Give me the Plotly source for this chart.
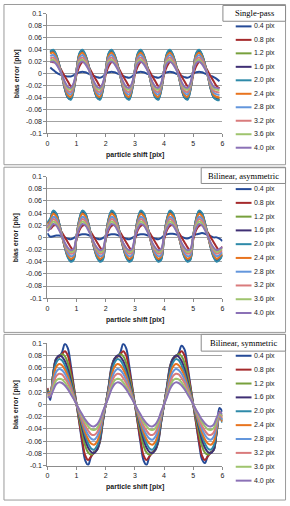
import plotly.graph_objects as go

# ---------------- data ----------------
series_labels = ["0.4 pix", "0.8 pix", "1.2 pix", "1.6 pix", "2.0 pix",
                 "2.4 pix", "2.8 pix", "3.2 pix", "3.6 pix", "4.0 pix"]
series_colors = ["#254a97", "#a52a2c", "#77a03c", "#3f2f74", "#2e8aa9",
                 "#e8741f", "#6396dc", "#d97b7c", "#9fc46e", "#8b71b6"]
panel_titles = ["Single-pass", "Bilinear, asymmetric", "Bilinear, symmetric"]
y_tick_values = [-0.1, -0.08, -0.06, -0.04, -0.02, 0, 0.02, 0.04, 0.06, 0.08, 0.1]
y_tick_labels = ["-0.1", "-0.08", "-0.06", "-0.04", "-0.02", "0",
                 "0.02", "0.04", "0.06", "0.08", "0.1"]
x_tick_values = [0, 1, 2, 3, 4, 5, 6]
x_tick_labels = ["0", "1", "2", "3", "4", "5", "6"]

shift_p1 = [round(0.1 * i, 1) for i in range(1, 60)]     # 0.1 .. 5.9
shift_full = [round(0.1 * i, 1) for i in range(0, 61)]   # 0.0 .. 6.0

# Panel 1: Single-pass (x = 0.1 .. 5.9)
p1_04 = [0.010, 0.006, 0.002, -0.001, -0.003, -0.004, -0.005, -0.005, -0.003,
         0.000, 0.002, 0.003, 0.002, 0.000, -0.002, -0.004, -0.006, -0.007, -0.005,
         0.000, 0.002, 0.003, 0.002, 0.000, -0.002, -0.004, -0.006, -0.007, -0.005,
         0.000, 0.002, 0.003, 0.002, 0.000, -0.002, -0.004, -0.006, -0.007, -0.005,
         0.000, 0.002, 0.003, 0.002, 0.000, -0.002, -0.004, -0.006, -0.007, -0.005,
         0.000, 0.002, 0.003, 0.002, 0.000, -0.002, -0.004, -0.006, -0.009, -0.013]
p1_08 = [0.020, 0.019, 0.018, 0.012, 0.004, -0.005, -0.013, -0.021, -0.022,
         -0.002, 0.012, 0.019, 0.018, 0.012, 0.004, -0.005, -0.013, -0.021, -0.022,
         -0.002, 0.012, 0.019, 0.018, 0.012, 0.004, -0.005, -0.013, -0.021, -0.022,
         -0.002, 0.012, 0.019, 0.018, 0.012, 0.004, -0.005, -0.013, -0.021, -0.022,
         -0.002, 0.012, 0.019, 0.018, 0.012, 0.004, -0.005, -0.013, -0.021, -0.022,
         -0.002, 0.012, 0.019, 0.018, 0.012, 0.004, -0.005, -0.013, -0.021, -0.025]
p1_12 = [0.034, 0.037, 0.030, 0.015, -0.004, -0.025, -0.038, -0.041, -0.027,
         0.006, 0.031, 0.037, 0.030, 0.015, -0.004, -0.025, -0.038, -0.041, -0.027,
         0.006, 0.031, 0.037, 0.030, 0.015, -0.004, -0.025, -0.038, -0.041, -0.027,
         0.006, 0.031, 0.037, 0.030, 0.015, -0.004, -0.025, -0.038, -0.041, -0.027,
         0.006, 0.031, 0.037, 0.030, 0.015, -0.004, -0.025, -0.038, -0.041, -0.027,
         0.006, 0.031, 0.037, 0.030, 0.015, -0.004, -0.025, -0.038, -0.041, -0.042]
p1_16 = [0.036, 0.039, 0.031, 0.016, -0.004, -0.026, -0.040, -0.043, -0.028,
         0.006, 0.033, 0.039, 0.031, 0.016, -0.004, -0.026, -0.040, -0.043, -0.028,
         0.006, 0.033, 0.039, 0.031, 0.016, -0.004, -0.026, -0.040, -0.043, -0.028,
         0.006, 0.033, 0.039, 0.031, 0.016, -0.004, -0.026, -0.040, -0.043, -0.028,
         0.006, 0.033, 0.039, 0.031, 0.016, -0.004, -0.026, -0.040, -0.043, -0.028,
         0.006, 0.033, 0.039, 0.031, 0.016, -0.004, -0.026, -0.040, -0.043, -0.044]
p1_20 = [0.037, 0.040, 0.032, 0.016, -0.004, -0.026, -0.040, -0.044, -0.029,
         0.006, 0.034, 0.040, 0.032, 0.016, -0.004, -0.026, -0.040, -0.044, -0.029,
         0.006, 0.034, 0.040, 0.032, 0.016, -0.004, -0.026, -0.040, -0.044, -0.029,
         0.006, 0.034, 0.040, 0.032, 0.016, -0.004, -0.026, -0.040, -0.044, -0.029,
         0.006, 0.034, 0.040, 0.032, 0.016, -0.004, -0.026, -0.040, -0.044, -0.029,
         0.006, 0.034, 0.040, 0.032, 0.016, -0.004, -0.026, -0.040, -0.044, -0.045]
p1_24 = [0.033, 0.035, 0.028, 0.014, -0.004, -0.023, -0.036, -0.039, -0.025,
         0.005, 0.030, 0.035, 0.028, 0.014, -0.004, -0.023, -0.036, -0.039, -0.025,
         0.005, 0.030, 0.035, 0.028, 0.014, -0.004, -0.023, -0.036, -0.039, -0.025,
         0.005, 0.030, 0.035, 0.028, 0.014, -0.004, -0.023, -0.036, -0.039, -0.025,
         0.005, 0.030, 0.035, 0.028, 0.014, -0.004, -0.023, -0.036, -0.039, -0.025,
         0.005, 0.030, 0.035, 0.028, 0.014, -0.004, -0.023, -0.036, -0.039, -0.040]
p1_28 = [0.029, 0.031, 0.025, 0.012, -0.004, -0.021, -0.032, -0.035, -0.023,
         0.005, 0.026, 0.031, 0.025, 0.012, -0.004, -0.021, -0.032, -0.035, -0.023,
         0.005, 0.026, 0.031, 0.025, 0.012, -0.004, -0.021, -0.032, -0.035, -0.023,
         0.005, 0.026, 0.031, 0.025, 0.012, -0.004, -0.021, -0.032, -0.035, -0.023,
         0.005, 0.026, 0.031, 0.025, 0.012, -0.004, -0.021, -0.032, -0.035, -0.023,
         0.005, 0.026, 0.031, 0.025, 0.012, -0.004, -0.021, -0.032, -0.035, -0.036]
p1_32 = [0.025, 0.027, 0.022, 0.011, -0.003, -0.019, -0.029, -0.031, -0.020,
         0.004, 0.023, 0.027, 0.022, 0.011, -0.003, -0.019, -0.029, -0.031, -0.020,
         0.004, 0.023, 0.027, 0.022, 0.011, -0.003, -0.019, -0.029, -0.031, -0.020,
         0.004, 0.023, 0.027, 0.022, 0.011, -0.003, -0.019, -0.029, -0.031, -0.020,
         0.004, 0.023, 0.027, 0.022, 0.011, -0.003, -0.019, -0.029, -0.031, -0.020,
         0.004, 0.023, 0.027, 0.022, 0.011, -0.003, -0.019, -0.029, -0.031, -0.032]
p1_36 = [0.022, 0.023, 0.018, 0.009, -0.003, -0.016, -0.025, -0.027, -0.018,
         0.003, 0.020, 0.023, 0.018, 0.009, -0.003, -0.016, -0.025, -0.027, -0.018,
         0.003, 0.020, 0.023, 0.018, 0.009, -0.003, -0.016, -0.025, -0.027, -0.018,
         0.003, 0.020, 0.023, 0.018, 0.009, -0.003, -0.016, -0.025, -0.027, -0.018,
         0.003, 0.020, 0.023, 0.018, 0.009, -0.003, -0.016, -0.025, -0.027, -0.018,
         0.003, 0.020, 0.023, 0.018, 0.009, -0.003, -0.016, -0.025, -0.027, -0.028]
p1_40 = [0.019, 0.020, 0.016, 0.008, -0.002, -0.014, -0.022, -0.024, -0.016,
         0.003, 0.017, 0.020, 0.016, 0.008, -0.002, -0.014, -0.022, -0.024, -0.016,
         0.003, 0.017, 0.020, 0.016, 0.008, -0.002, -0.014, -0.022, -0.024, -0.016,
         0.003, 0.017, 0.020, 0.016, 0.008, -0.002, -0.014, -0.022, -0.024, -0.016,
         0.003, 0.017, 0.020, 0.016, 0.008, -0.002, -0.014, -0.022, -0.024, -0.016,
         0.003, 0.017, 0.020, 0.016, 0.008, -0.002, -0.014, -0.022, -0.024, -0.025]

# Panel 2: Bilinear, asymmetric (x = 0.0 .. 6.0)
p2_04 = [0.007, 0.001, 0.002, 0.003, 0.003, 0.002, 0.000, -0.002, -0.003, -0.001,
         0.002, 0.004, 0.005, 0.005, 0.004, 0.002, 0.000, -0.002, -0.003, -0.001,
         0.002, 0.004, 0.005, 0.005, 0.004, 0.002, 0.000, -0.002, -0.003, -0.001,
         0.002, 0.004, 0.005, 0.005, 0.004, 0.002, 0.000, -0.002, -0.003, -0.001,
         0.003, 0.005, 0.006, 0.006, 0.005, 0.003, 0.001, -0.001, -0.002, 0.000,
         0.003, 0.005, 0.006, 0.007, 0.006, 0.004, 0.002, 0.000, 0.000, -0.002,
         -0.006]
p2_08 = [0.018, 0.014, 0.019, 0.020, 0.015, 0.008, 0.000, -0.008, -0.016, -0.022,
         -0.004, 0.012, 0.019, 0.020, 0.015, 0.008, 0.000, -0.008, -0.016, -0.022,
         -0.004, 0.012, 0.019, 0.020, 0.015, 0.008, 0.000, -0.008, -0.016, -0.022,
         -0.004, 0.012, 0.019, 0.020, 0.015, 0.008, 0.000, -0.008, -0.016, -0.022,
         -0.004, 0.012, 0.019, 0.020, 0.015, 0.008, 0.000, -0.008, -0.016, -0.022,
         -0.004, 0.012, 0.019, 0.020, 0.015, 0.008, 0.000, -0.008, -0.016, -0.022,
         -0.015]
p2_12 = [0.022, 0.029, 0.041, 0.037, 0.023, 0.003, -0.016, -0.030, -0.037, -0.034,
         0.002, 0.029, 0.041, 0.037, 0.023, 0.003, -0.016, -0.030, -0.037, -0.034,
         0.002, 0.029, 0.041, 0.037, 0.023, 0.003, -0.016, -0.030, -0.037, -0.034,
         0.002, 0.029, 0.041, 0.037, 0.023, 0.003, -0.016, -0.030, -0.037, -0.034,
         0.002, 0.029, 0.041, 0.037, 0.023, 0.003, -0.016, -0.030, -0.037, -0.034,
         0.002, 0.029, 0.041, 0.037, 0.023, 0.003, -0.016, -0.030, -0.037, -0.034,
         -0.028]
p2_16 = [0.024, 0.030, 0.043, 0.039, 0.024, 0.003, -0.017, -0.032, -0.039, -0.036,
         0.002, 0.030, 0.043, 0.039, 0.024, 0.003, -0.017, -0.032, -0.039, -0.036,
         0.002, 0.030, 0.043, 0.039, 0.024, 0.003, -0.017, -0.032, -0.039, -0.036,
         0.002, 0.030, 0.043, 0.039, 0.024, 0.003, -0.017, -0.032, -0.039, -0.036,
         0.002, 0.030, 0.043, 0.039, 0.024, 0.003, -0.017, -0.032, -0.039, -0.036,
         0.002, 0.030, 0.043, 0.039, 0.024, 0.003, -0.017, -0.032, -0.039, -0.036,
         -0.029]
p2_20 = [0.025, 0.031, 0.044, 0.040, 0.024, 0.004, -0.017, -0.033, -0.040, -0.037,
         0.002, 0.031, 0.044, 0.040, 0.024, 0.004, -0.017, -0.033, -0.040, -0.037,
         0.002, 0.031, 0.044, 0.040, 0.024, 0.004, -0.017, -0.033, -0.040, -0.037,
         0.002, 0.031, 0.044, 0.040, 0.024, 0.004, -0.017, -0.033, -0.040, -0.037,
         0.002, 0.031, 0.044, 0.040, 0.024, 0.004, -0.017, -0.033, -0.040, -0.037,
         0.002, 0.031, 0.044, 0.040, 0.024, 0.004, -0.017, -0.033, -0.040, -0.037,
         -0.030]
p2_24 = [0.020, 0.027, 0.039, 0.035, 0.021, 0.003, -0.015, -0.029, -0.035, -0.032,
         0.002, 0.027, 0.039, 0.035, 0.021, 0.003, -0.015, -0.029, -0.035, -0.032,
         0.002, 0.027, 0.039, 0.035, 0.021, 0.003, -0.015, -0.029, -0.035, -0.032,
         0.002, 0.027, 0.039, 0.035, 0.021, 0.003, -0.015, -0.029, -0.035, -0.032,
         0.002, 0.027, 0.039, 0.035, 0.021, 0.003, -0.015, -0.029, -0.035, -0.032,
         0.002, 0.027, 0.039, 0.035, 0.021, 0.003, -0.015, -0.029, -0.035, -0.032,
         -0.026]
p2_28 = [0.017, 0.024, 0.034, 0.031, 0.019, 0.003, -0.013, -0.026, -0.031, -0.029,
         0.002, 0.024, 0.034, 0.031, 0.019, 0.003, -0.013, -0.026, -0.031, -0.029,
         0.002, 0.024, 0.034, 0.031, 0.019, 0.003, -0.013, -0.026, -0.031, -0.029,
         0.002, 0.024, 0.034, 0.031, 0.019, 0.003, -0.013, -0.026, -0.031, -0.029,
         0.002, 0.024, 0.034, 0.031, 0.019, 0.003, -0.013, -0.026, -0.031, -0.029,
         0.002, 0.024, 0.034, 0.031, 0.019, 0.003, -0.013, -0.026, -0.031, -0.029,
         -0.024]
p2_32 = [0.015, 0.021, 0.030, 0.027, 0.017, 0.002, -0.012, -0.022, -0.027, -0.025,
         0.002, 0.021, 0.030, 0.027, 0.017, 0.002, -0.012, -0.022, -0.027, -0.025,
         0.002, 0.021, 0.030, 0.027, 0.017, 0.002, -0.012, -0.022, -0.027, -0.025,
         0.002, 0.021, 0.030, 0.027, 0.017, 0.002, -0.012, -0.022, -0.027, -0.025,
         0.002, 0.021, 0.030, 0.027, 0.017, 0.002, -0.012, -0.022, -0.027, -0.025,
         0.002, 0.021, 0.030, 0.027, 0.017, 0.002, -0.012, -0.022, -0.027, -0.025,
         -0.021]
p2_36 = [0.012, 0.018, 0.026, 0.023, 0.014, 0.002, -0.010, -0.019, -0.024, -0.022,
         0.001, 0.018, 0.026, 0.023, 0.014, 0.002, -0.010, -0.019, -0.024, -0.022,
         0.001, 0.018, 0.026, 0.023, 0.014, 0.002, -0.010, -0.019, -0.024, -0.022,
         0.001, 0.018, 0.026, 0.023, 0.014, 0.002, -0.010, -0.019, -0.024, -0.022,
         0.001, 0.018, 0.026, 0.023, 0.014, 0.002, -0.010, -0.019, -0.024, -0.022,
         0.001, 0.018, 0.026, 0.023, 0.014, 0.002, -0.010, -0.019, -0.024, -0.022,
         -0.018]
p2_40 = [0.010, 0.015, 0.022, 0.020, 0.012, 0.002, -0.009, -0.017, -0.021, -0.019,
         0.001, 0.015, 0.022, 0.020, 0.012, 0.002, -0.009, -0.017, -0.021, -0.019,
         0.001, 0.015, 0.022, 0.020, 0.012, 0.002, -0.009, -0.017, -0.021, -0.019,
         0.001, 0.015, 0.022, 0.020, 0.012, 0.002, -0.009, -0.017, -0.021, -0.019,
         0.001, 0.015, 0.022, 0.020, 0.012, 0.002, -0.009, -0.017, -0.021, -0.019,
         0.001, 0.015, 0.022, 0.020, 0.012, 0.002, -0.009, -0.017, -0.021, -0.019,
         -0.016]

# Panel 3: Bilinear, symmetric (x = 0.0 .. 6.0)
p3_04 = [0.026, 0.007, 0.050, 0.075, 0.078, 0.085, 0.099, 0.092, 0.065, 0.032, 0.000,
         -0.032, -0.065, -0.092, -0.099, -0.085, -0.078, -0.075, -0.062, -0.030, 0.000,
         0.030, 0.062, 0.075, 0.078, 0.085, 0.099, 0.092, 0.065, 0.032, 0.000,
         -0.032, -0.065, -0.092, -0.099, -0.085, -0.078, -0.075, -0.062, -0.030, 0.000,
         0.030, 0.062, 0.075, 0.078, 0.084, 0.096, 0.090, 0.064, 0.032, 0.000,
         -0.032, -0.064, -0.090, -0.096, -0.084, -0.078, -0.075, -0.045, -0.006, -0.012]
p3_08 = [0.027, 0.012, 0.050, 0.074, 0.078, 0.082, 0.087, 0.080, 0.057, 0.029, 0.000,
         -0.030, -0.060, -0.084, -0.091, -0.085, -0.079, -0.074, -0.060, -0.028, 0.000,
         0.028, 0.060, 0.074, 0.078, 0.082, 0.087, 0.080, 0.057, 0.029, 0.000,
         -0.030, -0.060, -0.084, -0.091, -0.085, -0.079, -0.074, -0.060, -0.028, 0.000,
         0.028, 0.060, 0.074, 0.078, 0.082, 0.087, 0.080, 0.057, 0.029, 0.000,
         -0.030, -0.060, -0.084, -0.091, -0.085, -0.079, -0.074, -0.046, -0.012, -0.020]
p3_12 = [0.024, 0.015, 0.050, 0.074, 0.079, 0.082, 0.079, 0.068, 0.048, 0.025, 0.000,
         -0.025, -0.048, -0.068, -0.079, -0.082, -0.079, -0.074, -0.058, -0.027, 0.000,
         0.027, 0.058, 0.074, 0.079, 0.082, 0.079, 0.068, 0.048, 0.025, 0.000,
         -0.025, -0.048, -0.068, -0.079, -0.082, -0.079, -0.074, -0.058, -0.027, 0.000,
         0.027, 0.058, 0.074, 0.079, 0.082, 0.079, 0.068, 0.048, 0.025, 0.000,
         -0.025, -0.048, -0.068, -0.079, -0.082, -0.079, -0.074, -0.047, -0.016, -0.024]
p3_16 = [0.022, 0.019, 0.049, 0.074, 0.080, 0.078, 0.071, 0.058, 0.040, 0.020, 0.000,
         -0.020, -0.040, -0.058, -0.071, -0.078, -0.080, -0.074, -0.057, -0.027, 0.000,
         0.027, 0.057, 0.074, 0.080, 0.078, 0.071, 0.058, 0.040, 0.020, 0.000,
         -0.020, -0.040, -0.058, -0.071, -0.078, -0.080, -0.074, -0.057, -0.027, 0.000,
         0.027, 0.057, 0.074, 0.080, 0.078, 0.071, 0.058, 0.040, 0.020, 0.000,
         -0.020, -0.040, -0.058, -0.071, -0.078, -0.080, -0.074, -0.047, -0.020, -0.027]
p3_20 = [0.020, 0.021, 0.046, 0.068, 0.074, 0.072, 0.064, 0.051, 0.035, 0.018, 0.000,
         -0.018, -0.035, -0.051, -0.064, -0.072, -0.074, -0.068, -0.052, -0.025, 0.000,
         0.025, 0.052, 0.068, 0.074, 0.072, 0.064, 0.051, 0.035, 0.018, 0.000,
         -0.018, -0.035, -0.051, -0.064, -0.072, -0.074, -0.068, -0.052, -0.025, 0.000,
         0.025, 0.052, 0.068, 0.074, 0.072, 0.064, 0.051, 0.035, 0.018, 0.000,
         -0.018, -0.035, -0.051, -0.064, -0.072, -0.074, -0.068, -0.044, -0.022, -0.030]
p3_24 = [0.018, 0.020, 0.041, 0.061, 0.066, 0.064, 0.057, 0.046, 0.031, 0.016, 0.000,
         -0.016, -0.031, -0.046, -0.057, -0.064, -0.066, -0.061, -0.046, -0.022, 0.000,
         0.022, 0.046, 0.061, 0.066, 0.064, 0.057, 0.046, 0.031, 0.016, 0.000,
         -0.016, -0.031, -0.046, -0.057, -0.064, -0.066, -0.061, -0.046, -0.022, 0.000,
         0.022, 0.046, 0.061, 0.066, 0.064, 0.057, 0.046, 0.031, 0.016, 0.000,
         -0.016, -0.031, -0.046, -0.057, -0.064, -0.066, -0.061, -0.040, -0.022, -0.028]
p3_28 = [0.016, 0.018, 0.036, 0.053, 0.058, 0.056, 0.050, 0.040, 0.027, 0.014, 0.000,
         -0.014, -0.027, -0.040, -0.050, -0.056, -0.058, -0.053, -0.040, -0.019, 0.000,
         0.019, 0.040, 0.053, 0.058, 0.056, 0.050, 0.040, 0.027, 0.014, 0.000,
         -0.014, -0.027, -0.040, -0.050, -0.056, -0.058, -0.053, -0.040, -0.019, 0.000,
         0.019, 0.040, 0.053, 0.058, 0.056, 0.050, 0.040, 0.027, 0.014, 0.000,
         -0.014, -0.027, -0.040, -0.050, -0.056, -0.058, -0.053, -0.035, -0.020, -0.025]
p3_32 = [0.015, 0.016, 0.031, 0.046, 0.050, 0.049, 0.043, 0.035, 0.024, 0.012, 0.000,
         -0.012, -0.024, -0.035, -0.043, -0.049, -0.050, -0.046, -0.034, -0.016, 0.000,
         0.016, 0.034, 0.046, 0.050, 0.049, 0.043, 0.035, 0.024, 0.012, 0.000,
         -0.012, -0.024, -0.035, -0.043, -0.049, -0.050, -0.046, -0.034, -0.016, 0.000,
         0.016, 0.034, 0.046, 0.050, 0.049, 0.043, 0.035, 0.024, 0.012, 0.000,
         -0.012, -0.024, -0.035, -0.043, -0.049, -0.050, -0.046, -0.030, -0.017, -0.022]
p3_36 = [0.013, 0.014, 0.027, 0.039, 0.042, 0.041, 0.036, 0.029, 0.020, 0.010, 0.000,
         -0.010, -0.020, -0.029, -0.036, -0.041, -0.042, -0.039, -0.029, -0.014, 0.000,
         0.014, 0.029, 0.039, 0.042, 0.041, 0.036, 0.029, 0.020, 0.010, 0.000,
         -0.010, -0.020, -0.029, -0.036, -0.041, -0.042, -0.039, -0.029, -0.014, 0.000,
         0.014, 0.029, 0.039, 0.042, 0.041, 0.036, 0.029, 0.020, 0.010, 0.000,
         -0.010, -0.020, -0.029, -0.036, -0.041, -0.042, -0.039, -0.026, -0.015, -0.019]
p3_40 = [0.012, 0.013, 0.023, 0.033, 0.036, 0.035, 0.031, 0.025, 0.017, 0.009, 0.000,
         -0.009, -0.017, -0.025, -0.031, -0.035, -0.036, -0.033, -0.025, -0.012, 0.000,
         0.012, 0.025, 0.033, 0.036, 0.035, 0.031, 0.025, 0.017, 0.009, 0.000,
         -0.009, -0.017, -0.025, -0.031, -0.035, -0.036, -0.033, -0.025, -0.012, 0.000,
         0.012, 0.025, 0.033, 0.036, 0.035, 0.031, 0.025, 0.017, 0.009, 0.000,
         -0.009, -0.017, -0.025, -0.031, -0.035, -0.036, -0.033, -0.022, -0.013, -0.016]

panel_x = [shift_p1, shift_full, shift_full]
panel_series = [
    [p1_04, p1_08, p1_12, p1_16, p1_20, p1_24, p1_28, p1_32, p1_36, p1_40],
    [p2_04, p2_08, p2_12, p2_16, p2_20, p2_24, p2_28, p2_32, p2_36, p2_40],
    [p3_04, p3_08, p3_12, p3_16, p3_20, p3_24, p3_28, p3_32, p3_36, p3_40],
]

# ---------------- layout (pixel geometry) ----------------
W, H = 290, 506


def fx(p):
    return p / W


def fy(p):
    return 1 - p / H


X_LEFT, X_RIGHT = 46, 223.5
panels = [
    dict(top=10, bot=131, border=(2, 0.5, 287.5, 163), tbox=(224, 1.5, 287.5, 17.5),
         leg0=22.7, legdy=13.67, xt=153),
    dict(top=175, bot=298.3, border=(2, 165.5, 287.5, 333), tbox=(202, 166, 287.5, 182),
         leg0=187.7, legdy=13.96, xt=320),
    dict(top=344, bot=468, border=(2, 335, 287.5, 503), tbox=(202, 335, 287.5, 352),
         leg0=356.7, legdy=14.07, xt=490),
]

AX = "#8c8c8c"
GRID = "#a3a3a3"
TXT = "#1a1a1a"
SANS = "Liberation Sans"
SERIF = "Liberation Serif"

fig = go.Figure()
shapes = []
annotations = []
layout_axes = {}

for i, pan in enumerate(panels):
    suf = "" if i == 0 else str(i + 1)
    for lab, col, ys in zip(series_labels, series_colors, panel_series[i]):
        fig.add_trace(go.Scatter(
            x=panel_x[i], y=ys, mode="lines", name=lab,
            line=dict(color=col, width=2, shape="spline", smoothing=1.0),
            xaxis="x" + suf, yaxis="y" + suf, showlegend=False, hoverinfo="skip"))

    layout_axes["xaxis" + suf] = dict(
        domain=[fx(X_LEFT), fx(X_RIGHT)], range=[0, 6], anchor="y" + suf,
        tickmode="array", tickvals=x_tick_values, ticktext=x_tick_labels,
        ticks="outside", ticklen=3, tickcolor=AX, tickwidth=1,
        showline=True, linecolor=AX, linewidth=1, showgrid=False, zeroline=False,
        tickfont=dict(family=SANS, size=7, color=TXT), fixedrange=True)
    layout_axes["yaxis" + suf] = dict(
        domain=[fy(pan["bot"]), fy(pan["top"])], range=[-0.1, 0.1], anchor="x" + suf,
        tickmode="array", tickvals=y_tick_values, ticktext=y_tick_labels,
        ticks="outside", ticklen=3, tickcolor=AX, tickwidth=1,
        showline=True, linecolor=AX, linewidth=1,
        showgrid=True, gridcolor=GRID, gridwidth=1, zeroline=False,
        tickfont=dict(family=SANS, size=7, color=TXT), fixedrange=True)

    # chart-area border
    bx0, by0, bx1, by1 = pan["border"]
    shapes.append(dict(type="rect", xref="paper", yref="paper",
                       x0=fx(bx0), x1=fx(bx1), y0=fy(by1), y1=fy(by0),
                       line=dict(color="#9a9a9a", width=1), fillcolor="rgba(0,0,0,0)",
                       layer="below"))
    # legend title box
    tx0, ty0, tx1, ty1 = pan["tbox"]
    shapes.append(dict(type="rect", xref="paper", yref="paper",
                       x0=fx(tx0), x1=fx(tx1), y0=fy(ty1), y1=fy(ty0),
                       line=dict(color="#8a8a8a", width=1), fillcolor="white",
                       layer="above"))
    annotations.append(dict(x=fx((tx0 + tx1) / 2), y=fy((ty0 + ty1) / 2),
                            xref="paper", yref="paper", text=panel_titles[i],
                            showarrow=False, xanchor="center", yanchor="middle",
                            font=dict(family=SERIF, size=8.5, color="#000000")))
    # legend entries
    for k, (lab, col) in enumerate(zip(series_labels, series_colors)):
        yy = pan["leg0"] + k * pan["legdy"]
        shapes.append(dict(type="line", xref="paper", yref="paper",
                           x0=fx(237), x1=fx(253), y0=fy(yy), y1=fy(yy),
                           line=dict(color=col, width=2), layer="above"))
        annotations.append(dict(x=fx(253), y=fy(yy), xref="paper", yref="paper",
                                text=lab, showarrow=False, xanchor="left",
                                yanchor="middle",
                                font=dict(family=SANS, size=7, color=TXT)))
    # axis titles
    annotations.append(dict(x=fx((X_LEFT + X_RIGHT) / 2), y=fy(pan["xt"]),
                            xref="paper", yref="paper", text="particle shift [pix]",
                            showarrow=False, xanchor="center", yanchor="middle",
                            font=dict(family=SANS, size=7, color=TXT, weight="bold")))
    annotations.append(dict(x=fx(15), y=fy((pan["top"] + pan["bot"]) / 2),
                            xref="paper", yref="paper", text="bias error [pix]",
                            textangle=-90, showarrow=False, xanchor="center",
                            yanchor="middle",
                            font=dict(family=SANS, size=7, color=TXT, weight="bold")))

fig.update_layout(
    width=W, height=H, autosize=False,
    margin=dict(l=0, r=0, t=0, b=0, pad=0),
    paper_bgcolor="white", plot_bgcolor="white",
    showlegend=False,
    shapes=shapes, annotations=annotations,
    **layout_axes,
)

fig.write_html("out.html", config={"displayModeBar": False, "responsive": False},
               post_script="document.body.style.margin='0px';"
                           "document.body.style.overflow='hidden';")
